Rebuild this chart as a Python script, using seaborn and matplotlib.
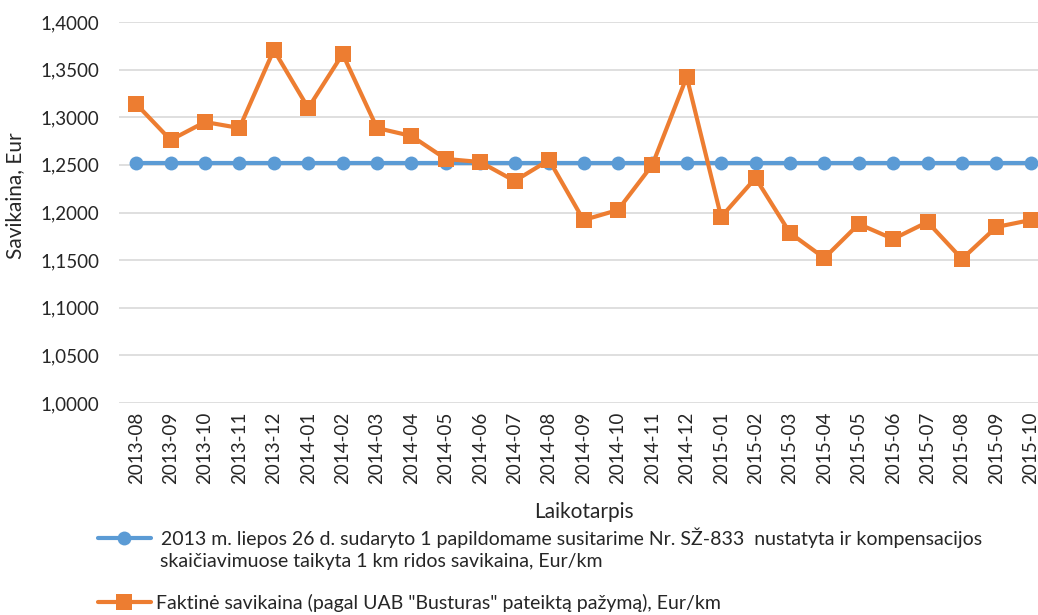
import matplotlib
matplotlib.use('Agg')
import matplotlib.pyplot as plt
import matplotlib.ticker as mticker
import pandas as pd
import seaborn as sns

# Data
months = ['2013-08', '2013-09', '2013-10', '2013-11', '2013-12', '2014-01', '2014-02',
          '2014-03', '2014-04', '2014-05', '2014-06', '2014-07', '2014-08', '2014-09',
          '2014-10', '2014-11', '2014-12', '2015-01', '2015-02', '2015-03', '2015-04',
          '2015-05', '2015-06', '2015-07', '2015-08', '2015-09', '2015-10']
contract_cost = [1.2515] * len(months)
actual_cost = [1.3139, 1.2761, 1.2950, 1.2887, 1.3706, 1.3097, 1.3664,
               1.2887, 1.2803, 1.2562, 1.2530, 1.2331, 1.2551, 1.1921,
               1.2026, 1.2499, 1.3423, 1.1953, 1.2362, 1.1785, 1.1522,
               1.1879, 1.1722, 1.1900, 1.1512, 1.1848, 1.1921]

label_contract_1 = ' 2013 m. liepos 26 d. sudaryto 1 papildomame susitarime Nr. SŽ-833  nustatyta ir kompensacijos'
label_contract_2 = 'skaičiavimuose taikyta 1 km ridos savikaina, Eur/km'
label_actual = 'Faktinė savikaina (pagal UAB "Busturas" pateiktą pažymą), Eur/km'

BLUE = '#5B9BD5'
ORANGE = '#ED7D31'
TEXT = '#262626'

sns.set_style('white')
plt.rcParams['font.family'] = ['Lato', 'DejaVu Sans']

df = pd.DataFrame({'month': months, 'contract': contract_cost, 'actual': actual_cost})

fig = plt.figure(figsize=(10.38, 6.15), dpi=100)
ax = fig.add_axes([119 / 1038, 1 - 403 / 615, 929 / 1038, 381 / 615])

sns.lineplot(data=df, x='month', y='contract', sort=False, color=BLUE, linewidth=3,
             marker='o', markersize=10, markeredgewidth=0, label=label_contract_1, ax=ax)
sns.lineplot(data=df, x='month', y='actual', sort=False, color=ORANGE, linewidth=3,
             marker='s', markersize=11.5, markeredgewidth=0, label=label_actual, ax=ax)

ax.set_xlim(-0.5, len(months) - 0.5)
ax.set_ylim(1.0, 1.4)
ax.yaxis.set_major_locator(mticker.MultipleLocator(0.05))
ax.yaxis.set_major_formatter(mticker.FuncFormatter(lambda v, p: f'{v:.4f}'.replace('.', ',')))
ax.grid(axis='y', color='#d9d9d9', linewidth=1.2)
ax.set_axisbelow(True)
for s in ax.spines.values():
    s.set_visible(False)

ax.tick_params(axis='y', length=0, pad=14, labelsize=13.5, labelcolor=TEXT)
ax.tick_params(axis='x', length=0, pad=6, labelsize=13.5, labelcolor=TEXT, rotation=90)

ax.set_xlabel('Laikotarpis', fontsize=15, color=TEXT)
ax.xaxis.set_label_coords(0.5, -(502 - 403) / 381)
ax.set_ylabel('Savikaina, Eur', fontsize=15, color=TEXT)
ax.yaxis.set_label_coords(-(119 - 25) / 929, (403 - 196) / 381)

handles, labels = ax.get_legend_handles_labels()
ax.get_legend().remove()
fig.legend(handles, labels, loc='upper left', bbox_to_anchor=(98 / 1038, 1 - 527 / 615),
           frameon=False, fontsize=14, handlelength=2.7, handletextpad=0.3,
           labelspacing=2.4, labelcolor=TEXT, borderpad=0, borderaxespad=0)
fig.text(160 / 1038, 1 - 562 / 615, label_contract_2, fontsize=14, color=TEXT, va='center')

fig.savefig('out.png', dpi=100, facecolor='white')
